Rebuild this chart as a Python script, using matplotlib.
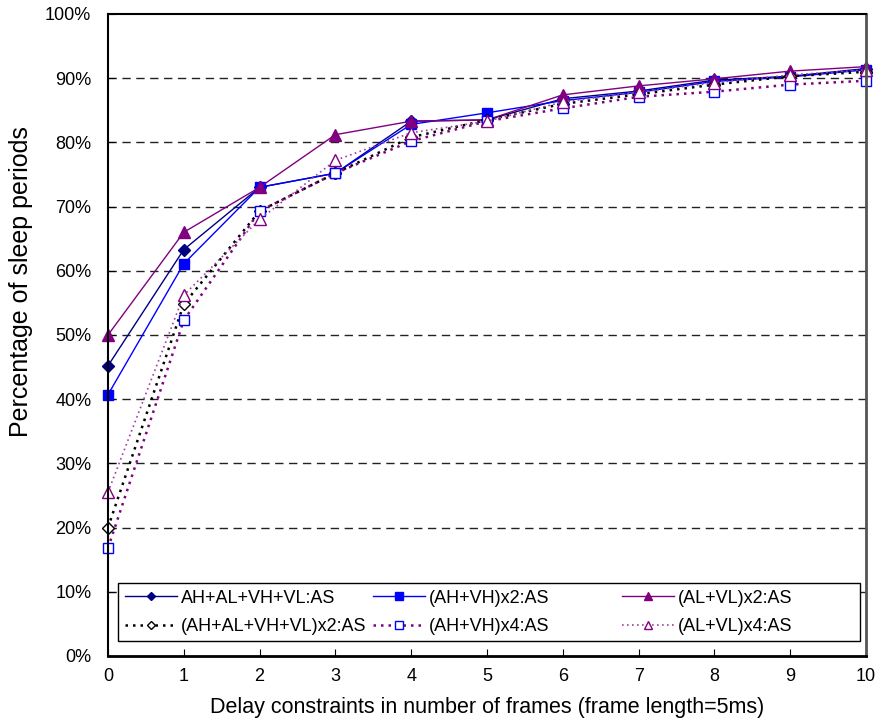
import numpy as np
import matplotlib.pyplot as plt
from matplotlib.ticker import FuncFormatter
from matplotlib.patches import Rectangle
from matplotlib.legend import Legend

plt.rcParams['font.family'] = ['Liberation Sans', 'DejaVu Sans']

delay = [0, 1, 2, 3, 4, 5, 6, 7, 8, 9, 10]

# percentage of sleep periods
all_as = [45.2, 63.3, 73.0, 75.2, 83.3, 83.5, 86.8, 88.0, 89.7, 90.3, 91.5]
ahvh_x2 = [40.7, 61.1, 73.0, 75.2, 82.8, 84.6, 86.5, 87.8, 89.5, 90.2, 91.3]
alvl_x2 = [50.0, 66.0, 73.0, 81.2, 83.3, 83.5, 87.4, 88.8, 89.9, 91.1, 91.8]
all_x2 = [20.0, 54.8, 69.3, 75.2, 80.8, 83.5, 86.0, 87.5, 89.0, 90.3, 91.0]
ahvh_x4 = [16.8, 52.3, 69.3, 75.2, 80.2, 83.3, 85.3, 87.1, 87.9, 89.0, 89.6]
alvl_x4 = [25.5, 56.2, 68.0, 77.2, 81.5, 83.3, 86.3, 87.8, 89.3, 90.5, 91.3]

labels = ['AH+AL+VH+VL:AS', '(AH+VH)x2:AS', '(AL+VL)x2:AS',
          '(AH+AL+VH+VL)x2:AS', '(AH+VH)x4:AS', '(AL+VL)x4:AS']

fig = plt.figure(figsize=(8.83, 7.21), dpi=100)
ax = fig.add_axes([0.1223, 0.0902, 0.8584, 0.8904])

dots = (0, (1, 2))
l1, = ax.plot(delay, all_as, color='#000080', lw=1, marker='D', ms=6,
              mfc='#000080', mec='#000080', label=labels[0], clip_on=False)
l2, = ax.plot(delay, ahvh_x2, color='#0000FF', lw=1, marker='s', ms=7,
              mfc='#0000FF', mec='#0000FF', label=labels[1], clip_on=False)
l3, = ax.plot(delay, alvl_x2, color='#800080', lw=1, marker='^', ms=8,
              mfc='#800080', mec='#800080', label=labels[2], clip_on=False)
l4, = ax.plot(delay, all_x2, color='black', lw=1.8, ls=dots, marker='D', ms=6,
              mfc='white', mec='black', label=labels[3], clip_on=False)
l5, = ax.plot(delay, ahvh_x4, color='#800080', lw=1.8, ls=dots, marker='s', ms=7,
              mfc='white', mec='#0000FF', label=labels[4], clip_on=False)
l6, = ax.plot(delay, alvl_x4, color='#A040A0', lw=1.2, ls=dots, marker='^', ms=8,
              mfc='white', mec='#800080', label=labels[5], clip_on=False)

ax.set_xlim(0, 10)
ax.set_ylim(0, 100)
ax.set_xticks(delay)
ax.set_yticks(np.arange(0, 101, 10))
ax.yaxis.set_major_formatter(FuncFormatter(lambda v, p: '%d%%' % v))
ax.tick_params(axis='x', direction='in', labelsize=13, length=5, pad=9)
ax.tick_params(axis='y', direction='in', labelsize=13, length=5, pad=12)

for g in range(10, 100, 10):
    ax.axhline(g, color='#222222', lw=1, ls=(0, (6, 4)), zorder=0)

for s in ax.spines.values():
    s.set_linewidth(1.5)
ax.spines['right'].set_color('#555555')
ax.spines['right'].set_linewidth(2)
ax.spines['bottom'].set_linewidth(2)

ax.set_xlabel('Delay constraints in number of frames (frame length=5ms)',
              fontsize=15.5, labelpad=8)
ax.set_ylabel('Percentage of sleep periods', fontsize=18)
ax.yaxis.set_label_coords(-0.099, 0.583)

# legend: frame plus three fixed-width columns
ax.add_patch(Rectangle((0.0132, 0.0234), 0.9788, 0.0903, transform=ax.transAxes,
                       facecolor='white', edgecolor='black', lw=1, zorder=4))
cols = [([l1, l4], [labels[0], labels[3]]),
        ([l2, l5], [labels[1], labels[4]]),
        ([l3, l6], [labels[2], labels[5]])]
col_x = [0.0224, 0.3496, 0.678]
for (hs, ls), x in zip(cols, col_x):
    leg = Legend(ax, hs, ls, loc='center left', bbox_to_anchor=(x, 0.0678),
                 fontsize=13, frameon=False, borderpad=0, borderaxespad=0,
                 handlelength=2.9, handletextpad=0.2, labelspacing=0.65,
                 markerscale=0.75)
    leg.set_zorder(5)
    ax.add_artist(leg)

fig.savefig('out.png', dpi=100)
